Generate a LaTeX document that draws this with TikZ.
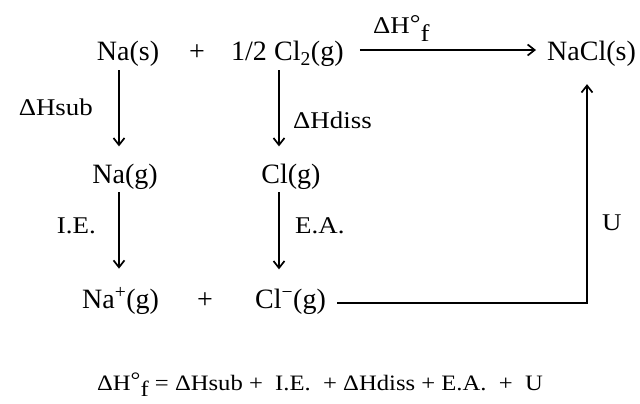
\documentclass[tikz,border=0pt]{standalone}
\usepackage{fontspec}
\setmainfont{Liberation Serif}
\newfontfamily\labfont[FakeStretch=1.12]{Liberation Serif}
\usetikzlibrary{arrows.meta}
\newcommand{\dHf}{ΔH\raisebox{.1em}{°}\raisebox{-.3em}{f}}
\tikzset{spec/.style={font=\fontsize{28}{32}\selectfont,inner sep=0pt,anchor=base},lab/.style={font=\labfont\fontsize{24}{28}\selectfont,inner sep=0pt,anchor=base},flow/.style={-{Straight Barb[length=7pt,width=11pt]},line width=1.7pt,shorten <=3pt,shorten >=17pt}}

\begin{document}
\begin{tikzpicture}[x=1pt,y=-1pt]
\useasboundingbox (0,0) rectangle (640,404);
\coordinate (colNa) at (119,0);\coordinate (colCl) at (279,0);\coordinate (colU) at (587,0);
\node[spec] (nas) at (128,61) {Na(s)};
\node[spec] (p1) at (197,61) {+};
\node[spec] (half) at (249,61) {1/2};
\node[spec,anchor=base west] (cl2) at (274,61) {Cl\textsubscript{2}(g)};
\node[spec,anchor=base west] (nacl) at (547,61) {NaCl(s)};
\node[spec] (nag) at (125,183) {Na(g)};
\node[spec] (clg) at (291,183) {Cl(g)};
\node[spec,anchor=base west] (naion) at (82,308) {Na\textsuperscript{+}(g)};
\node[spec] (p2) at (205,308) {+};
\node[spec,anchor=base west] (clion) at (255,308) {Cl\textsuperscript{−}(g)};
\node[lab,anchor=base east] (lsub) at (93,115) {ΔHsub};
\node[lab,anchor=base west] (ldiss) at (293,128) {ΔHdiss};
\node[lab,anchor=base east] (lie) at (96,233) {I.E.};
\node[lab,anchor=base west] (lea) at (295,233) {E.A.};
\node[lab,anchor=base west] (lu) at (602,230) {U};
\node[lab,anchor=base west] (ldf) at (373,34) {\dHf};
\draw[flow] (nas.south -| colNa) -- (nag.north -| colNa);
\draw[flow] (cl2.south -| colCl) -- (clg.north -| colCl);
\draw[flow,shorten >=19pt] (nag.south -| colNa) -- (naion.north -| colNa);
\draw[flow,shorten >=19pt] (clg.south -| colCl) -- (clion.north -| colCl);
\draw[flow,shorten <=0pt,shorten >=0pt] ([xshift=16pt,yshift=11pt]cl2.base east) -- ([xshift=-11pt,yshift=11pt]nacl.base west);
\draw[flow,shorten <=0pt] ([xshift=11pt,yshift=5pt]clion.base east) -| (nacl.south -| colU);
\node[lab,font=\labfont\fontsize{22}{26}\selectfont] (sum) at (320,390) {\dHf\ = ΔHsub +\ \ I.E.\ \ + ΔHdiss + E.A.\ \ +\ \ U};
\end{tikzpicture}
\end{document}
